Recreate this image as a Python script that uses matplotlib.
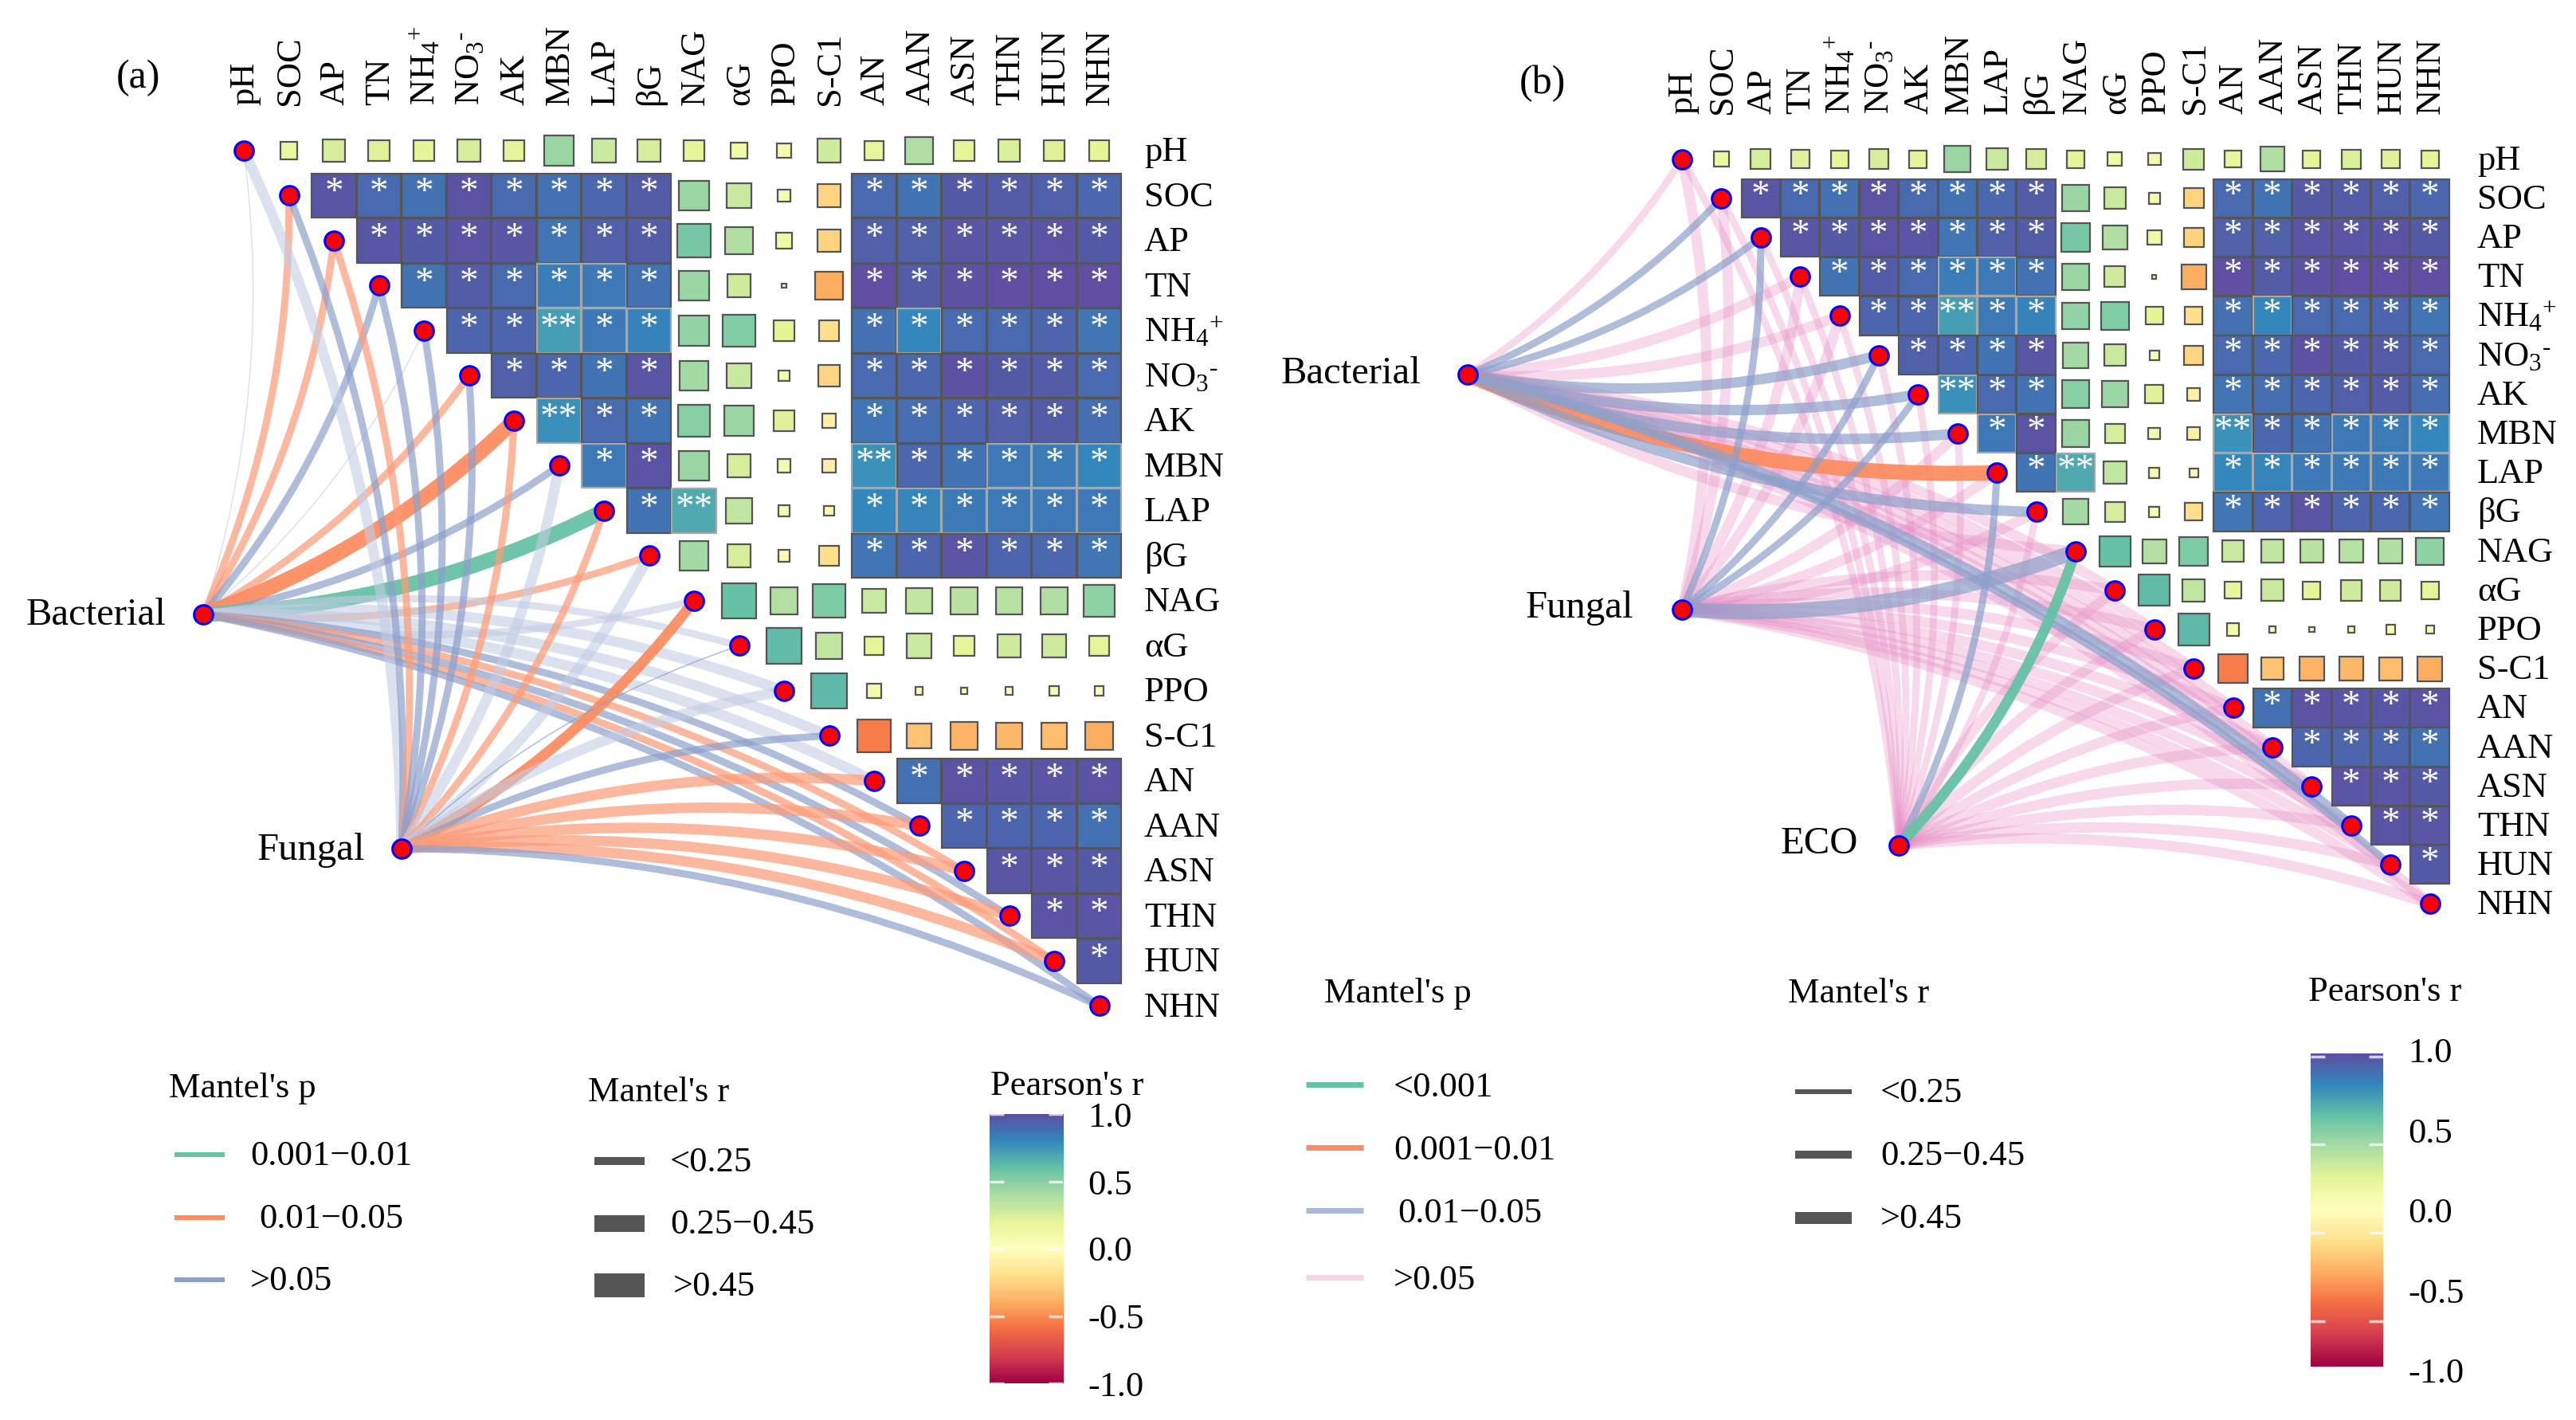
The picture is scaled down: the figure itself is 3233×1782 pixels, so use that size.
import numpy as np
import matplotlib
matplotlib.use('Agg')
import matplotlib.pyplot as plt
from matplotlib.patches import PathPatch, Rectangle
from matplotlib.path import Path

plt.rcParams['font.family'] = ['Liberation Serif', 'DejaVu Serif']
plt.rcParams['mathtext.default'] = 'regular'

W, H = 3233, 1782

variables = ['pH', 'SOC', 'AP', 'TN', 'NH4', 'NO3', 'AK', 'MBN', 'LAP', 'bG', 'NAG', 'aG', 'PPO', 'S-C1',
             'AN', 'AAN', 'ASN', 'THN', 'HUN', 'NHN']
labels = ['pH', 'SOC', 'AP', 'TN', r'$NH_4{}^{+}$', 'NO$_3{}^{\u2010}$', 'AK', 'MBN', 'LAP', 'βG', 'NAG', 'αG', 'PPO',
          'S-C1', 'AN', 'AAN', 'ASN', 'THN', 'HUN', 'NHN']

# pearson r, upper triangle, one list per row
r_pH = [.15, .25, .22, .20, .25, .20, .45, .30, .25, .20, .13, .10, .28, .18, .38, .20, .24, .22, .20]
r_SOC = [.97, .90, .88, .98, .90, .88, .91, .95, .45, .30, .08, -.25, .90, .87, .96, .95, .93, .91]
r_AP = [.97, .96, .98, .97, .86, .93, .95, .55, .38, .13, -.25, .93, .93, .97, .97, .98, .96]
r_TN = [.87, .95, .90, .84, .85, .88, .45, .28, .01, -.40, 1.0, .95, .99, 1.0, 1.0, 1.0]
r_NH4 = [.92, .92, .72, .85, .82, .47, .52, .20, -.20, .88, .80, .90, .90, .92, .86]
r_NO3 = [.93, .92, .87, .97, .42, .30, .06, -.24, .90, .91, .99, .96, .95, .90]
r_AK = [.77, .90, .87, .50, .45, .22, -.10, .86, .89, .92, .94, .95, .89]
r_MBN = [.85, .98, .45, .25, .09, -.10, .76, .91, .87, .85, .84, .80]
r_LAP = [.87, .68, .33, .07, -.05, .80, .81, .85, .85, .85, .85]
r_bG = [.42, .25, .07, -.20, .86, .92, .97, .92, .91, .86]
r_NAG = [.60, .37, .53, .30, .33, .35, .36, .38, .48]
r_aG = [.62, .33, .18, .30, .20, .28, .28, .20]
r_PPO = [.63, .10, .03, .02, .03, .05, .04]
r_SC1 = [-.55, -.32, -.38, -.36, -.34, -.40]
r_AN = [.88, .98, .97, .97, .98]
r_AAN = [.92, .92, .92, .88]
r_ASN = [.97, .97, .96]
r_THN = [.98, .97]
r_HUN = [.96]
pearson_rows = [r_pH, r_SOC, r_AP, r_TN, r_NH4, r_NO3, r_AK, r_MBN, r_LAP, r_bG, r_NAG, r_aG, r_PPO, r_SC1,
                r_AN, r_AAN, r_ASN, r_THN, r_HUN]
double_star = [('NH4', 'MBN'), ('AK', 'MBN'), ('MBN', 'AN'), ('LAP', 'NAG')]

# mantel links: p class code and r class per target, same order as variables
bact_a_p = ['l', 'o', 'o', 'B', 'l', 'o', 'O', 'B', 'G', 'o', 'l', 'l', 'l', 'l', 'l', 'B', 'o', 'B', 'o', 'B']
bact_a_r = [1, 2, 2, 2, 1, 2, 4, 2, 4, 2, 2, 2, 3, 3, 3, 2, 2, 2, 2, 2]
fung_a_p = ['l', 'B', 'o', 'B', 'B', 'B', 'o', 'l', 'o', 'l', 'O', 'B', 'l', 'B', 'o', 'o', 'o', 'o', 'o', 'B']
fung_a_r = [3, 2, 2, 2, 2, 2, 2, 3, 2, 3, 3, 1, 3, 2, 3, 3, 3, 3, 3, 2]
bact_b_p = ['P', 'B', 'B', 'P', 'P', 'B', 'B', 'B', 'O', 'B', 'P', 'P', 'P', 'P', 'P', 'P', 'P', 'B', 'B', 'P']
bact_b_r = [2, 2, 2, 3, 3, 3, 3, 3, 4, 3, 3, 3, 3, 3, 3, 3, 3, 3, 2, 3]
fung_b_p = ['P', 'P', 'B', 'P', 'P', 'B', 'B', 'P', 'P', 'P', 'B', 'P', 'P', 'P', 'P', 'P', 'P', 'P', 'P', 'P']
fung_b_r = [3, 3, 2, 3, 3, 2, 2, 3, 3, 3, 4, 3, 3, 3, 3, 3, 3, 3, 3, 3]
eco_b_p = ['P', 'P', 'P', 'P', 'P', 'P', 'P', 'P', 'B', 'P', 'G', 'P', 'P', 'P', 'P', 'P', 'P', 'P', 'P', 'P']
eco_b_r = [2, 2, 2, 2, 2, 2, 2, 2, 2, 2, 3, 3, 3, 3, 3, 3, 3, 3, 3, 3]

link_colors = {'G': ('#66C2A5', .95), 'O': ('#FC8D62', .95), 'o': ('#FC9C7A', .72), 'B': ('#8DA0CB', .7),
               'l': ('#C3CDE4', .6), 'P': ('#E78AC3', .32)}
link_width_px = {1: 1.5, 2: 9, 3: 13, 4: 19}

cmap = plt.get_cmap('Spectral')
fig = plt.figure(figsize=(W / 100, H / 100), dpi=100)


def px_to_pt(px):
    return px * 0.72


def grid_axes(x0, y0, dx, dy):
    ax = fig.add_axes([0, 0, 1, 1], facecolor='none')
    ax.set_xlim(-x0 / dx, (W - x0) / dx)
    ax.set_ylim((H - y0) / dy, -y0 / dy)
    ax.axis('off')
    return ax


def draw_link(ax, start, end, code, width):
    (x1, y1), (x2, y2) = start, end
    # nodes down to NAG curve one way, the ones below it the other
    c = 0.11 if variables.index('NAG') >= int(round(y2)) else -0.11
    ctrl = ((x1 + x2) / 2 - c * (y2 - y1), (y1 + y2) / 2 + c * (x2 - x1))
    color, alpha = link_colors[code]
    ax.add_patch(PathPatch(Path([start, ctrl, end], [Path.MOVETO, Path.CURVE3, Path.CURVE3]), fill=False,
                           edgecolor=color, alpha=alpha, lw=px_to_pt(link_width_px[width]), capstyle='butt',
                           zorder=2))


def draw_panel(x0, y0, dx, dy, hubs, links, label_bottom, label_left):
    ax = grid_axes(x0, y0, dx, dy)
    n = len(variables)
    # pink goes underneath
    todo = []
    for hub, (codes, widths) in zip(hubs, links):
        for i in range(n):
            todo.append((codes[i] != 'P', hub, (i, i), codes[i], widths[i]))
    for _, hub, end, code, width in sorted(todo, key=lambda t: t[0]):
        draw_link(ax, hub, end, code, width)

    for i, row in enumerate(pearson_rows):
        for k, r in enumerate(row):
            j = i + 1 + k
            stars = ''
            if (variables[i], variables[j]) in double_star:
                stars = '**'
            elif abs(r) >= .7:
                stars = '*'
            side = .98 if stars else np.sqrt(abs(r))
            edge = '#555555'
            if stars and r < .86:
                edge = '#A8A8A8'
            ax.add_patch(Rectangle((j - side / 2, i - side / 2), side, side, facecolor=cmap((r + 1) / 2),
                                   edgecolor=edge, lw=1.6, zorder=3))
            if stars:
                ax.text(j, i - .04, stars, color='white', fontsize=34, ha='center', va='center', zorder=4)

    ax.scatter(range(n), range(n), s=290, c='#FF0000', edgecolors='#0000FF', linewidths=2.2, zorder=5, clip_on=False)
    ax.scatter([h[0] for h in hubs], [h[1] for h in hubs], s=290, c='#FF0000', edgecolors='#0000FF', linewidths=2.2,
               zorder=5, clip_on=False)

    for i, lab in enumerate(labels):
        ax.text(i + .03, label_bottom, lab, rotation=90, ha='center', va='bottom', fontsize=32)
        ax.text(label_left, i + .04, lab, ha='left', va='center', fontsize=32)


def colorbar(x0, y0, x1, y1, marks, tick_labels, tick_y, title_x, title_y, label_x):
    ax = fig.add_axes([x0 / W, 1 - y1 / H, (x1 - x0) / W, (y1 - y0) / H])
    grad = np.linspace(-1, 1, 256).reshape(-1, 1)
    ax.imshow(grad, aspect='auto', cmap='Spectral', vmin=-1, vmax=1, origin='lower', extent=[0, 1, -1, 1])
    for m in marks:
        ax.plot([0, .2], [m, m], color='white', lw=2.5, alpha=.75, solid_capstyle='butt')
        ax.plot([.8, 1], [m, m], color='white', lw=2.5, alpha=.75, solid_capstyle='butt')
    ax.set_xlim(0, 1)
    ax.set_ylim(-1, 1)
    ax.axis('off')
    over.text(title_x, title_y + 3, "Pearson's r", fontsize=32, ha='left', va='center')
    for lab, y in zip(tick_labels, tick_y):
        over.text(label_x, y + 4, lab, fontsize=32, ha='left', va='center')


# overlay in pixel units for the free text and the legends
over = fig.add_axes([0, 0, 1, 1], facecolor='none')
over.set_xlim(0, W)
over.set_ylim(H, 0)
over.axis('off')

draw_panel(306, 189, 56.5, 56.5, [(-.9, 10.3), (3.5, 15.5)],
           [(bact_a_p, bact_a_r), (fung_a_p, fung_a_r)], -1.0, 20.0)
draw_panel(2111, 199.6, 49.4, 49.2, [(-5.45, 5.5), (0, 11.49), (5.51, 17.51)],
           [(bact_b_p, bact_b_r), (fung_b_p, fung_b_r), (eco_b_p, eco_b_r)], -1.15, 20.2)

for txt, x, y in [('(a)', 146, 98), ('(b)', 1907, 105)]:
    over.text(x, y, txt, fontsize=36, ha='left', va='center')
for txt, x, y in [('Bacterial', 33, 772), ('Fungal', 323, 1067), ('Bacterial', 1608, 469), ('Fungal', 1915, 763),
                  ('ECO', 2235, 1059)]:
    over.text(x, y, txt, fontsize=35, ha='left', va='center')

# panel (a) legends
over.text(212, 1366, "Mantel's p", fontsize=32, ha='left', va='center')
for txt, col, y, xt in [('0.001−0.01', '#66C2A5', 1449, 314), ('0.01−0.05', '#FC8D62', 1528, 325),
                        ('>0.05', '#8DA0CB', 1606, 314)]:
    over.plot([219, 282], [y, y], color=col, lw=px_to_pt(6), solid_capstyle='butt')
    over.text(xt, y + 2, txt, fontsize=32, ha='left', va='center')
over.text(738, 1371, "Mantel's r", fontsize=32, ha='left', va='center')
for txt, th, y, xt in [('<0.25', 10, 1457, 841), ('0.25−0.45', 21, 1535, 841), ('>0.45', 30, 1613, 845)]:
    over.add_patch(Rectangle((746, y - th / 2), 63, th, facecolor='#555555', edgecolor='none'))
    over.text(xt, y + 2, txt, fontsize=32, ha='left', va='center')
colorbar(1242, 1398, 1334, 1736, [1.0, .5, 0, -.5, -1.0], ['1.0', '0.5', '0.0', '-0.5', '-1.0'],
         [1399, 1484, 1567, 1652, 1737], 1243, 1360, 1365)

# panel (b) legends
over.text(1662, 1247, "Mantel's p", fontsize=32, ha='left', va='center')
for txt, col, y, xt in [('<0.001', '#66C2A5', 1361, 1749), ('0.001−0.01', '#FC8D62', 1440, 1749),
                        ('0.01−0.05', '#AAB8DA', 1519, 1754), ('>0.05', '#F5D5E8', 1603, 1749)]:
    over.plot([1639, 1711], [y, y], color=col, lw=px_to_pt(7), solid_capstyle='butt')
    over.text(xt, y + 4, txt, fontsize=32, ha='left', va='center')
over.text(2244, 1247, "Mantel's r", fontsize=32, ha='left', va='center')
for txt, th, y in [('<0.25', 6, 1370), ('0.25−0.45', 10.5, 1449), ('>0.45', 15, 1528)]:
    over.add_patch(Rectangle((2253, y - th / 2), 71, th, facecolor='#555555', edgecolor='none'))
    over.text(2360, y + 2, txt, fontsize=32, ha='left', va='center')
colorbar(2900, 1322, 2991, 1715, [.98, .42, -.145, -.71], ['1.0', '0.5', '0.0', '-0.5', '-1.0'],
         [1318, 1419, 1519, 1620, 1720], 2897, 1242, 3022)

fig.savefig('out.png', dpi=100, facecolor='white')
